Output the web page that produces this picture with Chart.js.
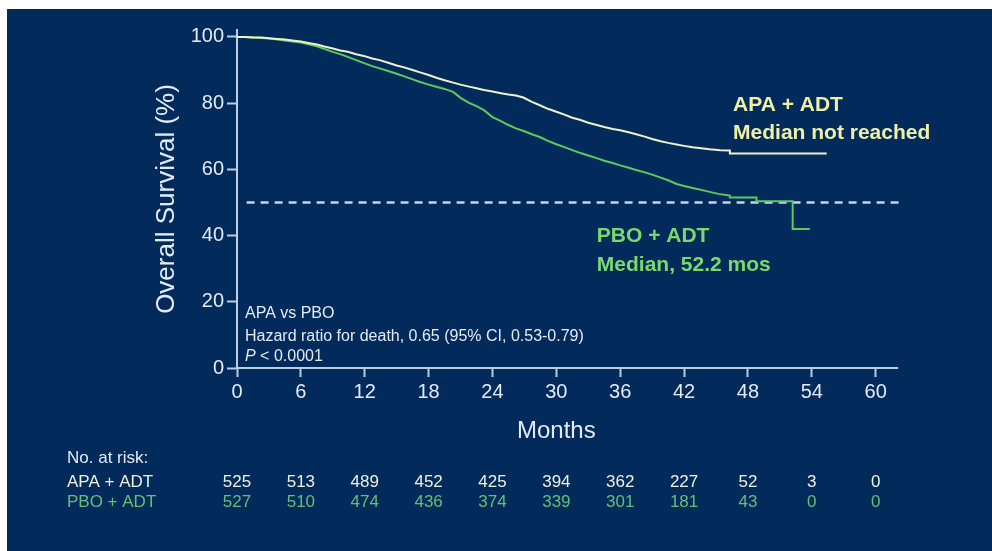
<!DOCTYPE html>
<html>
<head>
<meta charset="utf-8">
<script src="https://cdn.jsdelivr.net/npm/chart.js@4/dist/chart.umd.min.js"></script>
<style>
  html, body { margin: 0; padding: 0; background: #ffffff; }
  canvas { display: block; }
</style>
</head>
<body>
<canvas id="os" width="992" height="551"></canvas>
<script>
// Axis ticks
const monthTicks = [0, 6, 12, 18, 24, 30, 36, 42, 48, 54, 60];
const survivalTicks = [0, 20, 40, 60, 80, 100];

// Kaplan-Meier estimates, APA + ADT arm (months, % surviving)
const apaMonths = [0, 0.8, 1.5, 2.3, 3, 3.8, 4.5, 5.2, 6, 6.7, 7.5, 8.2, 9, 9.7, 10.4, 11.2, 12, 12.7, 13.4, 14.2,
  15, 15.7, 16.5, 17.2, 18, 18.8, 19.5, 20.3, 21, 21.8, 22.5, 23.2, 24, 24.8, 25.5, 26.2, 26.9, 27.7, 28.5, 29.2,
  30, 30.7, 31.5, 32.2, 33, 33.8, 34.5, 35.3, 36, 36.8, 37.5, 38.3, 39, 39.8, 40.5, 41.3, 42, 42.8, 43.6, 44.4,
  45.4, 46.3, 46.3, 55.4];
const apaSurvival = [100, 100, 99.8, 99.8, 99.6, 99.4, 99.2, 98.9, 98.6, 98.2, 97.7, 97.1, 96.5, 95.9, 95.5, 94.8, 94.2, 93.5, 93, 92.2,
  91.4, 90.8, 90, 89.3, 88.5, 87.6, 86.9, 86.2, 85.6, 85, 84.5, 84, 83.5, 83, 82.6, 82.3, 81.7, 80.4, 79.3, 78.3,
  77.4, 76.6, 75.6, 75, 74.1, 73.4, 72.8, 72.2, 71.8, 71.2, 70.6, 69.9, 69.2, 68.5, 68, 67.5, 67.1, 66.7, 66.4, 66.1,
  65.8, 65.7, 64.8, 64.8];

// Kaplan-Meier estimates, PBO + ADT arm (months, % surviving)
const pboMonths = [0, 0.8, 1.5, 2.3, 3, 3.8, 4.5, 5.2, 6, 6.7, 7.5, 8.2, 9, 9.7, 10.4, 11.2, 12, 12.7, 13.4, 14.2,
  15, 15.7, 16.5, 17.2, 18, 18.8, 19.5, 20.3, 21, 21.8, 22.5, 23.2, 24, 24.8, 25.5, 26.2, 27, 27.7, 28.5, 29.2,
  30, 30.7, 31.5, 32.2, 33, 33.8, 34.5, 35.3, 36, 36.8, 37.5, 38.3, 39, 39.8, 40.5, 41.3, 42, 42.8, 43.6, 44.4,
  45.2, 46.3, 46.3, 48.8, 48.8, 52.2, 52.2, 53.8];
const pboSurvival = [100, 100, 99.8, 99.7, 99.5, 99.2, 98.9, 98.6, 98.3, 97.8, 97.2, 96.4, 95.5, 94.8, 94, 93, 92, 91.2, 90.5, 89.7,
  88.9, 88.1, 87.2, 86.4, 85.6, 84.9, 84.3, 83.4, 81.6, 80.1, 79.1, 77.9, 75.8, 74.6, 73.4, 72.4, 71.5, 70.6, 69.7, 68.6,
  67.6, 66.8, 65.8, 65, 64.2, 63.4, 62.6, 61.9, 61.2, 60.5, 59.8, 59.1, 58.4, 57.5, 56.7, 55.6, 55, 54.4, 53.8, 53.2,
  52.6, 52.1, 51.5, 51.5, 50.4, 50.4, 42, 42];

// 50% reference line
const refLineMonths = [0.9, 62.3];
const refLineSurvival = [50, 50];

// Numbers at risk
const riskMonths = [0, 6, 12, 18, 24, 30, 36, 42, 48, 54, 60];
const apaAtRisk = [525, 513, 489, 452, 425, 394, 362, 227, 52, 3, 0];
const pboAtRisk = [527, 510, 474, 436, 374, 339, 301, 181, 43, 0, 0];

const FONT = "'Liberation Sans', Arial, sans-serif";
const NAVY = '#022b5c';
const AXIS = '#bccde6';
const LABEL = '#e3eaf5';
const APA_LINE = '#eef2cc';
const PBO_LINE = '#5ec95c';
const APA_TEXT = '#eef0a6';
const PBO_TEXT = '#7bd96c';
const APA_ROW = '#eef0dc';
const PBO_ROW = '#62bf78';

const toXY = (xs, ys) => xs.map((m, i) => ({ x: m, y: ys[i] }));

const panel = {
  id: 'panel',
  beforeDraw(chart) {
    const { ctx, width, height } = chart;
    ctx.save();
    ctx.fillStyle = '#ffffff';
    ctx.fillRect(0, 0, width, height);
    ctx.fillStyle = NAVY;
    ctx.fillRect(7, 9, width - 7, height - 9);
    ctx.restore();
  }
};

const notes = {
  id: 'notes',
  afterDatasetsDraw(chart) {
    const { ctx, scales: { x, y } } = chart;
    ctx.save();
    ctx.textBaseline = 'middle';

    // x-axis title, centred under the 0-60 month range
    ctx.textAlign = 'center';
    ctx.font = '24px ' + FONT;
    ctx.fillStyle = LABEL;
    ctx.fillText('Months', x.getPixelForValue(30), 431);

    ctx.textAlign = 'left';

    // arm labels
    ctx.font = 'bold 21px ' + FONT;
    ctx.fillStyle = APA_TEXT;
    ctx.fillText('APA + ADT', x.getPixelForValue(46.6), y.getPixelForValue(79.5));
    ctx.fillText('Median not reached', x.getPixelForValue(46.6), y.getPixelForValue(71.0));
    ctx.fillStyle = PBO_TEXT;
    ctx.fillText('PBO + ADT', x.getPixelForValue(33.8), y.getPixelForValue(39.7));
    ctx.fillText('Median, 52.2 mos', x.getPixelForValue(33.8), y.getPixelForValue(31.0));

    // hazard ratio box
    ctx.font = '16px ' + FONT;
    ctx.fillStyle = LABEL;
    const hx = x.getPixelForValue(0.75);
    ctx.fillText('APA vs PBO', hx, y.getPixelForValue(16.5));
    ctx.fillText('Hazard ratio for death, 0.65 (95% CI, 0.53-0.79)', hx, y.getPixelForValue(9.5));
    ctx.font = 'italic 16px ' + FONT;
    ctx.fillText('P', hx, y.getPixelForValue(3.4));
    const pw = ctx.measureText('P').width;
    ctx.font = '16px ' + FONT;
    ctx.fillText(' < 0.0001', hx + pw, y.getPixelForValue(3.4));

    // numbers at risk
    ctx.font = '17px ' + FONT;
    ctx.fillStyle = LABEL;
    ctx.fillText('No. at risk:', 67, 458);
    ctx.fillStyle = APA_ROW;
    ctx.fillText('APA + ADT', 67, 482);
    ctx.fillStyle = PBO_ROW;
    ctx.fillText('PBO + ADT', 67, 502);
    ctx.textAlign = 'center';
    riskMonths.forEach((m, i) => {
      const px = x.getPixelForValue(m);
      ctx.fillStyle = APA_ROW;
      ctx.fillText(String(apaAtRisk[i]), px, 482);
      ctx.fillStyle = PBO_ROW;
      ctx.fillText(String(pboAtRisk[i]), px, 502);
    });
    ctx.restore();
  }
};

new Chart(document.getElementById('os'), {
  type: 'line',
  data: {
    datasets: [
      {
        label: 'APA + ADT',
        data: toXY(apaMonths, apaSurvival),
        borderColor: APA_LINE,
        borderWidth: 2,
        pointRadius: 0,
        fill: false,
        order: 1
      },
      {
        label: 'PBO + ADT',
        data: toXY(pboMonths, pboSurvival),
        borderColor: PBO_LINE,
        borderWidth: 2,
        pointRadius: 0,
        fill: false,
        order: 2
      },
      {
        label: 'Median',
        data: toXY(refLineMonths, refLineSurvival),
        borderColor: '#c6d3ea',
        borderWidth: 2.5,
        borderDash: [8, 6],
        pointRadius: 0,
        fill: false,
        clip: false,
        order: 3
      }
    ]
  },
  options: {
    responsive: false,
    devicePixelRatio: 1,
    animation: false,
    layout: { padding: { left: 148, top: 30, right: 95, bottom: 103 } },
    plugins: {
      legend: { display: false },
      tooltip: { enabled: false }
    },
    scales: {
      x: {
        type: 'linear',
        min: 0,
        max: 62,
        afterBuildTicks(scale) { scale.ticks = monthTicks.map(v => ({ value: v })); },
        afterFit(scale) { scale.height = 80; },
        ticks: { color: LABEL, font: { family: FONT, size: 20 }, padding: 3, maxRotation: 0 },
        grid: { drawOnChartArea: false, drawTicks: true, tickLength: 9, tickColor: AXIS, tickWidth: 2 },
        border: { color: AXIS, width: 2 },
        title: { display: false }
      },
      y: {
        type: 'linear',
        min: 0,
        max: 102.1,
        afterBuildTicks(scale) { scale.ticks = survivalTicks.map(v => ({ value: v })); },
        afterFit(scale) { scale.width = 89; },
        ticks: { color: LABEL, font: { family: FONT, size: 20 }, padding: 3 },
        grid: { drawOnChartArea: false, drawTicks: true, tickLength: 10, tickColor: AXIS, tickWidth: 2 },
        border: { color: AXIS, width: 2 },
        title: { display: true, text: 'Overall Survival (%)', color: LABEL, font: { family: FONT, size: 26 }, padding: { top: 3, bottom: 3 } }
      }
    }
  },
  plugins: [panel, notes]
});
</script>
</body>
</html>
